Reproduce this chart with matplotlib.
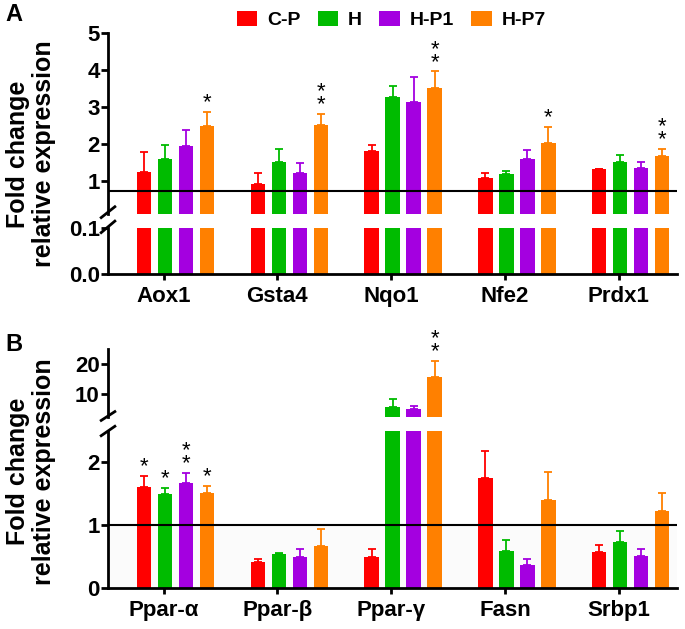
import matplotlib
matplotlib.use('Agg')
import matplotlib.pyplot as plt
import numpy as np
from matplotlib.patches import Patch

plt.rcParams['font.family'] = ['Liberation Sans', 'DejaVu Sans']
plt.rcParams['font.weight'] = 'bold'

groups = ['C-P', 'H', 'H-P1', 'H-P7']
colors = ['#ff0000', '#00bb00', '#a400e0', '#ff8000']

# panel A
cats_a = ['Aox1', 'Gsta4', 'Nqo1', 'Nfe2', 'Prdx1']
cp_a = [1.25, 0.92, 1.80, 1.08, 1.31]
h_a = [1.59, 1.52, 3.26, 1.17, 1.52]
hp1_a = [1.93, 1.20, 3.13, 1.59, 1.35]
hp7_a = [2.48, 2.51, 3.50, 2.01, 1.67]
cp_a_err = [0.54, 0.29, 0.17, 0.13, 0.02]
h_a_err = [0.38, 0.34, 0.30, 0.10, 0.17]
hp1_a_err = [0.44, 0.28, 0.68, 0.25, 0.15]
hp7_a_err = [0.38, 0.30, 0.46, 0.45, 0.20]
stars_a = [['', '', '', '', ''], ['', '', '', '', ''], ['', '', '', '', ''],
           ['*', '**', '**', '*', '**']]

# panel B
cats_b = ['Ppar-α', 'Ppar-β', 'Ppar-γ', 'Fasn', 'Srbp1']
cp_b = [1.61, 0.42, 0.49, 1.75, 0.58]
h_b = [1.49, 0.54, 5.7, 0.59, 0.74]
hp1_b = [1.67, 0.50, 5.3, 0.37, 0.51]
hp7_b = [1.52, 0.67, 15.7, 1.40, 1.23]
cp_b_err = [0.17, 0.04, 0.13, 0.43, 0.10]
h_b_err = [0.10, 0.02, 2.6, 0.17, 0.17]
hp1_b_err = [0.16, 0.12, 0.7, 0.09, 0.11]
hp7_b_err = [0.10, 0.27, 5.3, 0.45, 0.28]
stars_b = [['*', '', '', '', ''], ['*', '', '', '', ''], ['**', '', '', '', ''],
           ['*', '', '**', '', '']]

fs = 16
lw_ax = 2.0
step = 0.1845
bw = 0.127
x = np.arange(5)

fig = plt.figure(figsize=(6.85, 6.29), dpi=100)
L, W = 0.1577, 0.8307
axAu = fig.add_axes([L, 0.6598, W, 0.2878])
axAl = fig.add_axes([L, 0.5644, W, 0.0731])
axBu = fig.add_axes([L, 0.3370, W, 0.1081])
axBl = fig.add_axes([L, 0.0652, W, 0.2496])


def draw(ax, vals, errs, stars, lo, hi):
    for k in range(4):
        xs = x + (k - 1.5) * step
        ax.bar(xs, vals[k], width=bw, color=colors[k], zorder=2)
        for i in range(5):
            top = vals[k][i] + errs[k][i]
            if top < lo:
                continue
            ax.errorbar(xs[i], vals[k][i], yerr=[[0], [errs[k][i]]], fmt='none',
                        ecolor=colors[k], elinewidth=1.3, capsize=3, capthick=1.3, zorder=1)
            if stars[k][i] and top <= hi:
                ax.annotate('\n'.join(stars[k][i]), (xs[i], top), xytext=(0, -1),
                            textcoords='offset points', ha='center', va='bottom',
                            fontsize=16, fontweight='normal', linespacing=0.5)
    ax.set_ylim(lo, hi)
    ax.set_xlim(-0.593, 4.407)
    ax.set_facecolor('none')
    for s in ['top', 'right']:
        ax.spines[s].set_visible(False)
    ax.spines['left'].set_linewidth(lw_ax)
    ax.spines['bottom'].set_linewidth(lw_ax)
    ax.tick_params(axis='y', width=lw_ax, length=5, pad=1, labelsize=fs)
    ax.tick_params(axis='x', width=lw_ax, length=4, pad=5, labelsize=fs)


def upper(ax):
    ax.spines['bottom'].set_visible(False)
    ax.set_xticks([])


va = [cp_a, h_a, hp1_a, hp7_a]
ea = [cp_a_err, h_a_err, hp1_a_err, hp7_a_err]
draw(axAu, va, ea, stars_a, 0.1, 5)
draw(axAl, va, ea, stars_a, 0, 0.1)
upper(axAu)
axAu.set_yticks([1, 2, 3, 4, 5])
axAl.set_yticks([0, 0.1])
axAl.set_yticklabels(['0.0', '0.1'])
axAl.set_xticks(x - 0.105)
axAl.set_xticklabels(cats_a)
axAu.axhline(0.73, color='k', lw=1.5, zorder=3)
axAu.plot([-0.012, 0.012], [-0.02, 0.04], transform=axAu.transAxes, color='k', lw=lw_ax, clip_on=False)
axAl.plot([-0.012, 0.012], [0.9, 1.15], transform=axAl.transAxes, color='k', lw=lw_ax, clip_on=False)

vb = [cp_b, h_b, hp1_b, hp7_b]
eb = [cp_b_err, h_b_err, hp1_b_err, hp7_b_err]
draw(axBu, vb, eb, stars_b, 2.5, 25)
draw(axBl, vb, eb, stars_b, 0, 2.5)
upper(axBu)
axBu.set_yticks([10, 20])
axBl.set_yticks([0, 1, 2])
axBl.set_xticks(x - 0.105)
axBl.set_xticklabels(cats_b)
axBl.axhspan(0, 1, color='#fbfbfb', zorder=0)
axBl.axhline(1, color='k', lw=1.5, zorder=3)
axBu.plot([-0.012, 0.012], [-0.05, 0.08], transform=axBu.transAxes, color='k', lw=lw_ax, clip_on=False)
axBl.plot([-0.012, 0.012], [0.97, 1.03], transform=axBl.transAxes, color='k', lw=lw_ax, clip_on=False)

fig.text(0.045, 0.755, 'Fold change\nrelative expression', rotation=90, ha='center',
         va='center', fontsize=18, linespacing=1.1)
fig.text(0.045, 0.25, 'Fold change\nrelative expression', rotation=90, ha='center',
         va='center', fontsize=18, linespacing=1.1)
fig.text(0.008, 0.995, 'A', fontsize=17, va='top')
fig.text(0.008, 0.47, 'B', fontsize=17, va='top')

handles = [Patch(facecolor=c, edgecolor='none') for c in colors]
fig.legend(handles, groups, loc='center', bbox_to_anchor=(0.571, 0.968), ncol=4,
           frameon=False, fontsize=14, handlelength=1.05, handleheight=0.8,
           handletextpad=0.5, columnspacing=0.9)

plt.savefig('out.png', dpi=100)
plt.close()
